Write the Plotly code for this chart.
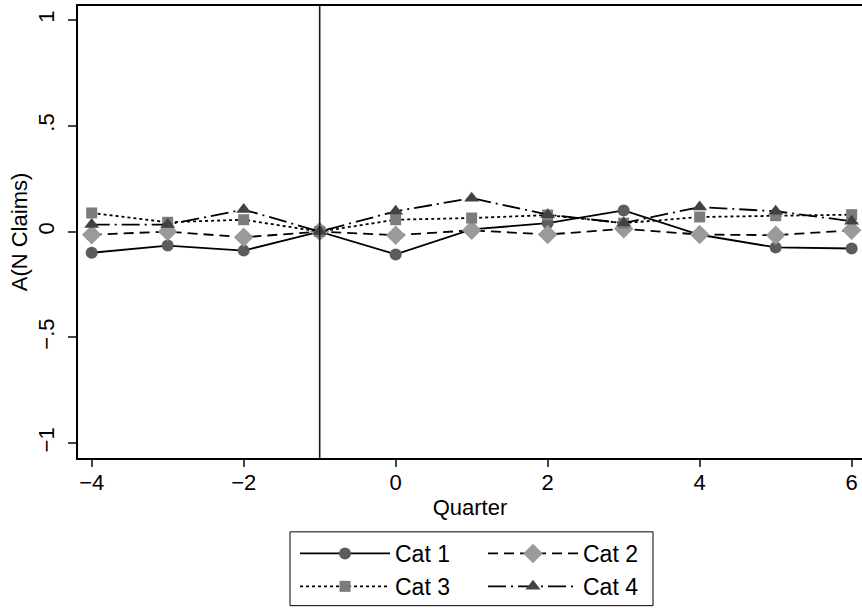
import plotly.graph_objects as go

quarters = [-4, -3, -2, -1, 0, 1, 2, 3, 4, 5, 6]
cat1 = [-0.100, -0.066, -0.090, 0.0, -0.108, 0.010, 0.040, 0.100, -0.015, -0.075, -0.080]
cat2 = [-0.015, 0.000, -0.027, 0.0, -0.017, 0.006, -0.014, 0.013, -0.014, -0.017, 0.006]
cat3 = [0.088, 0.044, 0.056, 0.0, 0.056, 0.064, 0.078, 0.040, 0.069, 0.075, 0.080]
cat4 = [0.033, 0.033, 0.104, 0.0, 0.096, 0.158, 0.080, 0.040, 0.116, 0.096, 0.049]

y_tickvals = [-1, -0.5, 0, 0.5, 1]
y_ticktext = ["\u22121", "\u2212.5", "0", ".5", "1"]
x_tickvals = [-4, -2, 0, 2, 4, 6]
x_ticktext = ["\u22124", "\u22122", "0", "2", "4", "6"]

series = [
    ("Cat 1", cat1, "circle", "#5c5c5c", 12, "solid", "legend"),
    ("Cat 2", cat2, "diamond", "#9a9a9a", 15, "10px,6px", "legend2"),
    ("Cat 3", cat3, "square", "#7c7c7c", 11, "3px,3px", "legend"),
    ("Cat 4", cat4, "triangle-up", "#424242", 13, "18px,5px,2px,5px", "legend2"),
]

FONT = "Liberation Sans, Arial, Helvetica, sans-serif"
FS = 22
LFS = 23

fig = go.Figure()
for name, vals, sym, col, size, dash, leg in series:
    fig.add_trace(go.Scatter(
        x=quarters, y=vals, name=name, mode="lines+markers",
        legend=leg, legendgroup=name,
        line=dict(color="black", width=1.8, dash=dash),
        marker=dict(symbol=sym, color=col, size=size, line=dict(width=0)),
    ))

fig.add_vline(x=-1, line=dict(color="#1a1a1a", width=1.6))

# legend frame (paper coordinates, below the plot area)
fig.add_shape(type="rect", xref="paper", yref="paper",
              x0=0.2704, x1=0.7334, y0=-0.1634, y1=-0.3267,
              line=dict(color="black", width=1), fillcolor="rgba(0,0,0,0)")

leg_common = dict(
    orientation="v", xref="paper", yref="paper",
    xanchor="left", yanchor="top", borderwidth=0,
    bgcolor="rgba(0,0,0,0)", itemwidth=90, tracegroupgap=0,
    font=dict(size=LFS, family=FONT),
)

fig.update_layout(
    width=862, height=608,
    margin=dict(l=78, r=0, t=6, b=149),
    paper_bgcolor="white", plot_bgcolor="white",
    font=dict(family=FONT, size=FS, color="black"),
    showlegend=True,
    legend=dict(x=0.2768, y=-0.1634, **leg_common),
    legend2=dict(x=0.5166, y=-0.1634, **leg_common),
    xaxis=dict(
        range=[-4.18, 6.136], tickvals=x_tickvals, ticktext=x_ticktext,
        showgrid=False, zeroline=False, showline=True, mirror=True,
        linecolor="black", linewidth=1.5, ticks="outside", ticklen=7,
        tickcolor="#444444", tickwidth=1.5, automargin=False,
        ticklabelstandoff=-3,
        title=dict(text="Quarter", standoff=5, font=dict(size=FS)),
    ),
    yaxis=dict(
        range=[-1.07, 1.066], tickvals=y_tickvals, ticktext=y_ticktext,
        tickangle=-90, automargin=False, ticklabelstandoff=5,
        showgrid=False, zeroline=False, showline=True, mirror=False,
        linecolor="black", linewidth=1.5, ticks="outside", ticklen=8,
        tickcolor="#444444", tickwidth=1.5,
        title=dict(text="A(N Claims)", standoff=1, font=dict(size=FS)),
    ),
)

fig.write_html("out.html", config={"displayModeBar": False},
               post_script="document.body.style.margin='0px';")
